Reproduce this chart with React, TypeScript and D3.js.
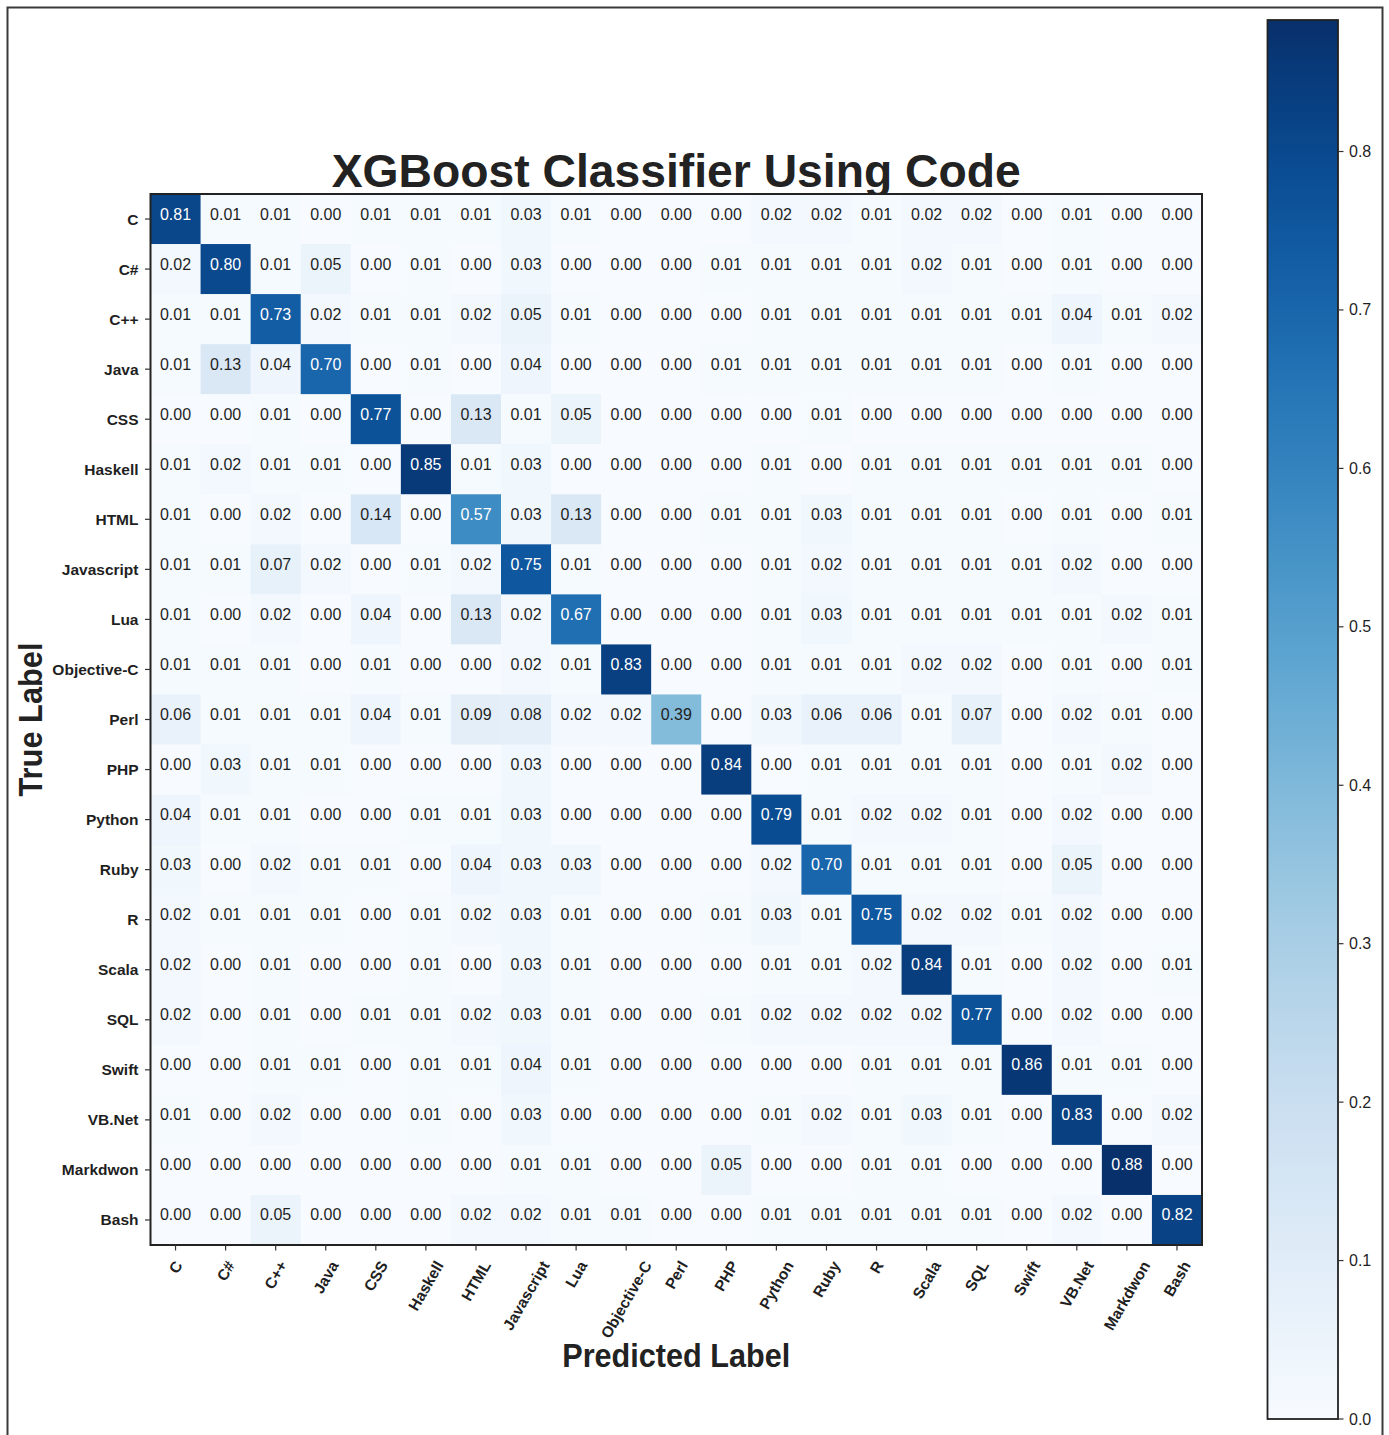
import React from "react";
import * as d3 from "d3";

const labels = ["C","C#","C++","Java","CSS","Haskell","HTML","Javascript","Lua","Objective-C","Perl","PHP","Python","Ruby","R","Scala","SQL","Swift","VB.Net","Markdwon","Bash"];

const rowC = [0.81,0.01,0.01,0.00,0.01,0.01,0.01,0.03,0.01,0.00,0.00,0.00,0.02,0.02,0.01,0.02,0.02,0.00,0.01,0.00,0.00];
const rowCSharp = [0.02,0.80,0.01,0.05,0.00,0.01,0.00,0.03,0.00,0.00,0.00,0.01,0.01,0.01,0.01,0.02,0.01,0.00,0.01,0.00,0.00];
const rowCpp = [0.01,0.01,0.73,0.02,0.01,0.01,0.02,0.05,0.01,0.00,0.00,0.00,0.01,0.01,0.01,0.01,0.01,0.01,0.04,0.01,0.02];
const rowJava = [0.01,0.13,0.04,0.70,0.00,0.01,0.00,0.04,0.00,0.00,0.00,0.01,0.01,0.01,0.01,0.01,0.01,0.00,0.01,0.00,0.00];
const rowCSS = [0.00,0.00,0.01,0.00,0.77,0.00,0.13,0.01,0.05,0.00,0.00,0.00,0.00,0.01,0.00,0.00,0.00,0.00,0.00,0.00,0.00];
const rowHaskell = [0.01,0.02,0.01,0.01,0.00,0.85,0.01,0.03,0.00,0.00,0.00,0.00,0.01,0.00,0.01,0.01,0.01,0.01,0.01,0.01,0.00];
const rowHTML = [0.01,0.00,0.02,0.00,0.14,0.00,0.57,0.03,0.13,0.00,0.00,0.01,0.01,0.03,0.01,0.01,0.01,0.00,0.01,0.00,0.01];
const rowJavascript = [0.01,0.01,0.07,0.02,0.00,0.01,0.02,0.75,0.01,0.00,0.00,0.00,0.01,0.02,0.01,0.01,0.01,0.01,0.02,0.00,0.00];
const rowLua = [0.01,0.00,0.02,0.00,0.04,0.00,0.13,0.02,0.67,0.00,0.00,0.00,0.01,0.03,0.01,0.01,0.01,0.01,0.01,0.02,0.01];
const rowObjC = [0.01,0.01,0.01,0.00,0.01,0.00,0.00,0.02,0.01,0.83,0.00,0.00,0.01,0.01,0.01,0.02,0.02,0.00,0.01,0.00,0.01];
const rowPerl = [0.06,0.01,0.01,0.01,0.04,0.01,0.09,0.08,0.02,0.02,0.39,0.00,0.03,0.06,0.06,0.01,0.07,0.00,0.02,0.01,0.00];
const rowPHP = [0.00,0.03,0.01,0.01,0.00,0.00,0.00,0.03,0.00,0.00,0.00,0.84,0.00,0.01,0.01,0.01,0.01,0.00,0.01,0.02,0.00];
const rowPython = [0.04,0.01,0.01,0.00,0.00,0.01,0.01,0.03,0.00,0.00,0.00,0.00,0.79,0.01,0.02,0.02,0.01,0.00,0.02,0.00,0.00];
const rowRuby = [0.03,0.00,0.02,0.01,0.01,0.00,0.04,0.03,0.03,0.00,0.00,0.00,0.02,0.70,0.01,0.01,0.01,0.00,0.05,0.00,0.00];
const rowR = [0.02,0.01,0.01,0.01,0.00,0.01,0.02,0.03,0.01,0.00,0.00,0.01,0.03,0.01,0.75,0.02,0.02,0.01,0.02,0.00,0.00];
const rowScala = [0.02,0.00,0.01,0.00,0.00,0.01,0.00,0.03,0.01,0.00,0.00,0.00,0.01,0.01,0.02,0.84,0.01,0.00,0.02,0.00,0.01];
const rowSQL = [0.02,0.00,0.01,0.00,0.01,0.01,0.02,0.03,0.01,0.00,0.00,0.01,0.02,0.02,0.02,0.02,0.77,0.00,0.02,0.00,0.00];
const rowSwift = [0.00,0.00,0.01,0.01,0.00,0.01,0.01,0.04,0.01,0.00,0.00,0.00,0.00,0.00,0.01,0.01,0.01,0.86,0.01,0.01,0.00];
const rowVBNet = [0.01,0.00,0.02,0.00,0.00,0.01,0.00,0.03,0.00,0.00,0.00,0.00,0.01,0.02,0.01,0.03,0.01,0.00,0.83,0.00,0.02];
const rowMarkdwon = [0.00,0.00,0.00,0.00,0.00,0.00,0.00,0.01,0.01,0.00,0.00,0.05,0.00,0.00,0.01,0.01,0.00,0.00,0.00,0.88,0.00];
const rowBash = [0.00,0.00,0.05,0.00,0.00,0.00,0.02,0.02,0.01,0.01,0.00,0.00,0.01,0.01,0.01,0.01,0.01,0.00,0.02,0.00,0.82];

const matrix = [rowC,rowCSharp,rowCpp,rowJava,rowCSS,rowHaskell,rowHTML,rowJavascript,rowLua,rowObjC,rowPerl,rowPHP,rowPython,rowRuby,rowR,rowScala,rowSQL,rowSwift,rowVBNet,rowMarkdwon,rowBash];

const colorbarTicks = [0.0,0.1,0.2,0.3,0.4,0.5,0.6,0.7,0.8];
const vmax = 0.883;

const FONT = "'Liberation Sans', Arial, Helvetica, sans-serif";

let measureCtx: CanvasRenderingContext2D | null = null;
function measure(text: string, font: string): number {
  if (!measureCtx) {
    const c = document.createElement("canvas");
    measureCtx = c.getContext("2d");
  }
  if (!measureCtx) return text.length * 8;
  measureCtx.font = font;
  return measureCtx.measureText(text).width;
}

export default function App() {
  const W = 1389, H = 1435;
  const left = 150.5, right = 1202, top = 194, bottom = 1245;
  const x = d3.scaleBand<string>().domain(labels).range([left, right]);
  const y = d3.scaleBand<string>().domain(labels).range([top, bottom]);
  const color = (v: number) => d3.interpolateBlues(Math.max(0, Math.min(1, v / vmax)));

  const cbLeft = 1267.5, cbRight = 1338, cbTop = 20, cbBottom = 1419;
  const cbScale = d3.scaleLinear().domain([0, vmax]).range([cbBottom, cbTop]);
  const stops = d3.range(0, 1.0001, 0.02);

  const tickFont = `bold 15.5px ${FONT}`;
  const textDark = "#1f1f1f";

  return (
    <svg width={W} height={H} style={{ position: "absolute", left: 0, top: 0, background: "#fff" }} fontFamily={FONT}>
      <defs>
        <linearGradient id="cbgrad" x1="0" y1="1" x2="0" y2="0">
          {stops.map((t, i) => (
            <stop key={i} offset={t} stopColor={d3.interpolateBlues(t)} />
          ))}
        </linearGradient>
      </defs>
      <rect x={0} y={0} width={W} height={H} fill="#fff" />
      {/* outer frame */}
      <rect x={7.5} y={7.5} width={1375} height={1500} fill="none" stroke="#3a3a3a" strokeWidth={2} />

      {/* title */}
      <text x={(left + right) / 2} y={187} textAnchor="middle" fontSize={47} fontWeight="bold" fill="#222"
        textLength={689} lengthAdjust="spacingAndGlyphs">XGBoost Classifier Using Code</text>

      {/* cells */}
      {matrix.map((row, i) => row.map((v, j) => (
        <rect key={`c${i}-${j}`} x={x(labels[j])!} y={y(labels[i])!} width={x.bandwidth() + 0.5} height={y.bandwidth() + 0.5} fill={color(v)} />
      )))}
      {/* annotations */}
      {matrix.map((row, i) => row.map((v, j) => (
        <text key={`t${i}-${j}`} x={x(labels[j])! + x.bandwidth() / 2} y={y(labels[i])! + y.bandwidth() / 2 - 5}
          textAnchor="middle" dominantBaseline="central" fontSize={16}
          fill={v > vmax / 2 ? "#ffffff" : textDark}>{v.toFixed(2)}</text>
      )))}
      <rect x={left} y={top} width={right - left} height={bottom - top} fill="none" stroke="#222" strokeWidth={2} />

      {/* y ticks */}
      {labels.map((l) => {
        const cy = y(l)! + y.bandwidth() / 2;
        return (
          <g key={`y${l}`}>
            <line x1={left - 5.5} x2={left} y1={cy} y2={cy} stroke="#333" strokeWidth={1.2} />
            <text x={left - 12} y={cy} textAnchor="end" dominantBaseline="central" fontSize={15.5} fontWeight="bold" fill={textDark}>{l}</text>
          </g>
        );
      })}

      {/* x ticks */}
      {labels.map((l) => {
        const cx = x(l)! + x.bandwidth() / 2;
        const w = measure(l, tickFont);
        const h = 17;
        const bh = w * Math.sin(Math.PI / 3) + h * Math.cos(Math.PI / 3);
        const cy = 1258 + bh / 2;
        return (
          <g key={`x${l}`}>
            <line x1={cx} x2={cx} y1={bottom} y2={bottom + 5.5} stroke="#333" strokeWidth={1.2} />
            <text x={cx} y={cy} textAnchor="middle" dominantBaseline="central" fontSize={15.5} fontWeight="bold" fill={textDark}
              transform={`rotate(-60, ${cx}, ${cy})`}>{l}</text>
          </g>
        );
      })}

      {/* axis labels */}
      <text x={(left + right) / 2} y={1367} textAnchor="middle" fontSize={33} fontWeight="bold" fill="#222"
        textLength={228} lengthAdjust="spacingAndGlyphs">Predicted Label</text>
      <text transform={`translate(42, ${(top + bottom) / 2}) rotate(-90)`} textAnchor="middle" fontSize={33} fontWeight="bold" fill="#222"
        textLength={154} lengthAdjust="spacingAndGlyphs">True Label</text>

      {/* colorbar */}
      <rect x={cbLeft} y={cbTop} width={cbRight - cbLeft} height={cbBottom - cbTop} fill="url(#cbgrad)" />
      <rect x={cbLeft} y={cbTop} width={cbRight - cbLeft} height={cbBottom - cbTop} fill="none" stroke="#222" strokeWidth={1.8} />
      {colorbarTicks.map((t) => {
        const ty = cbScale(t);
        return (
          <g key={`cb${t}`}>
            <line x1={cbRight} x2={cbRight + 5.5} y1={ty} y2={ty} stroke="#333" strokeWidth={1.2} />
            <text x={cbRight + 11} y={ty} dominantBaseline="central" fontSize={16} fill={textDark}>{t.toFixed(1)}</text>
          </g>
        );
      })}
    </svg>
  );
}
